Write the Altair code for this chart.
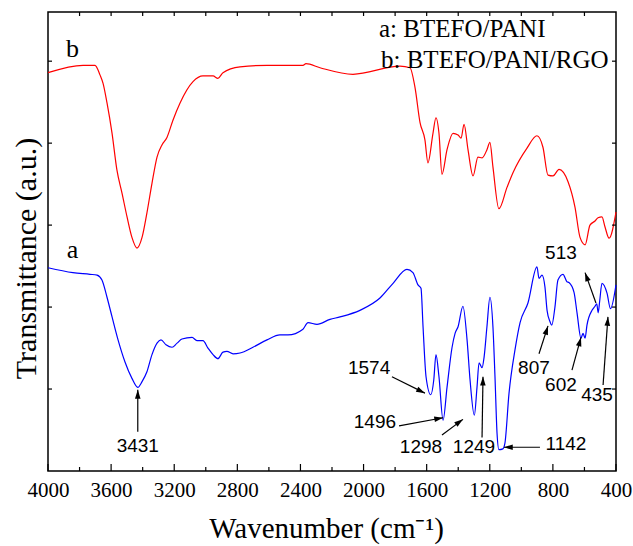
import math
import altair as alt
import pandas as pd

W, H = 568, 459
X_MIN, X_MAX = 400, 4000
Y_MIN, Y_MAX = 0, 56

# Spectrum a: BTEFO/PANI (blue)
wn_a = [4000, 3842, 3734, 3689, 3658, 3626, 3594, 3556, 3512, 3468,
        3431, 3404, 3373, 3341, 3309, 3284, 3252, 3214, 3182, 3151,
        3087, 3056, 3018, 2986, 2954, 2923, 2891, 2866, 2827, 2783,
        2701, 2612, 2530, 2479, 2384, 2352, 2295, 2213, 2149, 2023,
        1896, 1813, 1725, 1687, 1655, 1636, 1623, 1604, 1574, 1555,
        1541, 1522, 1496, 1471, 1439, 1420, 1401, 1370, 1344, 1325,
        1298, 1281, 1268, 1249, 1236, 1218, 1199, 1180, 1167, 1154,
        1142, 1117, 1104, 1078, 1040, 1008, 958, 901, 888, 869,
        850, 837, 818, 807, 787, 768, 736, 711, 698, 666,
        647, 622, 609, 596, 584, 552, 533, 522, 513, 503,
        489, 457, 435, 400]
tr_a = [24.8, 24.2, 24.0, 23.9, 23.3, 21.2, 18.8, 16.0, 13.3, 11.3,
        10.2, 10.9, 12.1, 14.2, 15.6, 16.0, 15.4, 15.1, 15.6, 16.1,
        16.3, 15.9, 15.9, 15.0, 14.2, 13.7, 14.5, 14.6, 14.3, 14.4,
        15.1, 16.0, 16.6, 16.6, 17.3, 18.1, 17.9, 18.5, 18.8, 19.6,
        21.1, 22.9, 24.6, 24.2, 22.7, 22.3, 17.6, 11.5, 9.3, 11.1,
        14.2, 11.5, 6.2, 10.2, 15.1, 16.8, 17.6, 20.1, 16.0, 11.1,
        6.8, 10.2, 13.2, 12.6, 13.9, 17.6, 21.2, 17.6, 11.5, 4.6,
        2.6, 2.7, 3.4, 9.5, 14.8, 18.1, 20.5, 24.9, 23.5, 23.9,
        22.4, 19.6, 18.2, 17.8, 20.0, 23.3, 24.0, 23.1, 23.0, 21.8,
        19.3, 16.2, 16.8, 16.2, 17.8, 19.6, 20.1, 20.4, 19.3, 20.8,
        22.9, 21.7, 19.8, 22.7]

# Spectrum b: BTEFO/PANI/RGO (red)
wn_b = [4000, 3778, 3702, 3670, 3651, 3626, 3594, 3563, 3531, 3499,
        3468, 3436, 3404, 3373, 3341, 3309, 3277, 3246, 3208, 3163,
        3081, 3018, 2954, 2923, 2891, 2783, 2612, 2384, 2365, 2276,
        2067, 1769, 1706, 1674, 1642, 1611, 1592, 1560, 1541, 1522,
        1503, 1471, 1433, 1401, 1382, 1363, 1338, 1306, 1275, 1249,
        1218, 1199, 1180, 1142, 1091, 1053, 964, 901, 863, 831,
        799, 761, 704, 660, 628, 596, 565, 533, 514, 489,
        470, 444, 400]
tr_b = [48.6, 49.5, 49.5, 48.3, 47.3, 44.9, 41.2, 36.7, 33.9, 31.0,
        28.5, 27.2, 28.5, 31.5, 35.1, 38.3, 39.8, 40.7, 42.8, 44.9,
        47.5, 48.2, 48.2, 47.9, 48.6, 49.3, 49.5, 49.5, 49.7, 49.2,
        48.4, 49.4, 49.2, 46.8, 42.5, 40.4, 37.6, 41.2, 43.1, 41.2,
        36.2, 39.2, 41.2, 41.0, 40.6, 42.3, 39.2, 36.0, 38.3, 38.2,
        39.2, 40.1, 37.1, 32.0, 34.6, 36.4, 39.4, 40.9, 39.5, 36.1,
        36.0, 36.8, 35.3, 32.2, 28.5, 27.6, 30.0, 30.5, 30.9, 31.0,
        29.8, 28.4, 31.6]

# Peak annotations
peak_text = ["3431", "1574", "1496", "1298", "1249", "1142", "807", "602", "435", "513"]
text_wn = [3431, 1965, 1928, 1636, 1300, 717, 920, 749, 520, 749]
text_tr = [3.05, 12.6, 6.0, 2.9, 2.9, 3.3, 12.6, 10.5, 9.3, 26.6]
arrow_from_wn = [3431, 1820, 1775, 1503, 1249, 882, 888, 679, 482, 527]
arrow_from_tr = [4.8, 11.5, 5.5, 4.4, 4.1, 2.9, 14.3, 12.3, 10.5, 20.5]
arrow_to_wn = [3431, 1611, 1496, 1370, 1243, 1110, 831, 622, 451, 596]
arrow_to_tr = [9.9, 9.5, 6.5, 6.3, 11.5, 2.9, 17.7, 16.3, 18.8, 24.2]

# Curve letters
letter_text = ["a", "b"]
letter_wn = [3845, 3845]
letter_tr = [26.0, 50.5]

legend_lines = ["a: BTEFO/PANI", "b: BTEFO/PANI/RGO"]

x_major = list(range(4000, 399, -400))
x_minor = list(range(3800, 401, -400))
x_top = list(range(3800, 401, -200))
y_ticks = [10, 20, 30, 40, 50]

xscale = alt.Scale(domain=[X_MIN, X_MAX], reverse=True, nice=False, zero=False)
yscale = alt.Scale(domain=[Y_MIN, Y_MAX], nice=False, zero=False)
xaxis = alt.Axis(values=x_major, format="d", title="Wavenumber (cm\u207b\u00b9)",
                 ticks=False, domain=False, grid=False, labelPadding=8,
                 labelFlush=False, labelOverlap=False,
                 labelFont="Liberation Serif", labelFontSize=21, labelColor="black",
                 titleFont="Liberation Serif", titleFontSize=29, titleFontWeight="normal",
                 titleColor="black", titleX=278, titleY=66, titleAlign="center",
                 titleBaseline="alphabetic")
yaxis = alt.Axis(title="Transmittance (a.u.)", labels=False, ticks=False, domain=False,
                 grid=False, titleFont="Liberation Serif", titleFontSize=30,
                 titleFontWeight="normal", titleColor="black", titleAngle=270,
                 titleX=-13, titleY=246, titleAlign="center", titleBaseline="alphabetic")


def X(field="wn"):
    return alt.X(f"{field}:Q", scale=xscale, axis=xaxis)


def Y(field="tr"):
    return alt.Y(f"{field}:Q", scale=yscale, axis=yaxis)


df_a = pd.DataFrame({"wn": wn_a, "tr": tr_a, "sample": "a"})
df_a["idx"] = range(len(df_a))
df_b = pd.DataFrame({"wn": wn_b, "tr": tr_b, "sample": "b"})
df_b["idx"] = range(len(df_b))
spectra = pd.concat([df_a, df_b], ignore_index=True)

lines = alt.Chart(spectra).mark_line(strokeWidth=1.2, interpolate="monotone").encode(
    x=X(), y=Y(),
    color=alt.Color("sample:N", scale=alt.Scale(domain=["a", "b"], range=["#0000FF", "#FF0000"]), legend=None),
    order="idx:Q",
)


def head_angle(w0, t0, w1, t1):
    dx = -(w1 - w0) * W / (X_MAX - X_MIN)
    dy = -(t1 - t0) * H / (Y_MAX - Y_MIN)
    return math.degrees(math.atan2(dx, -dy)) % 360


arrows = pd.DataFrame({
    "wn": arrow_from_wn, "tr": arrow_from_tr,
    "wn2": arrow_to_wn, "tr2": arrow_to_tr,
})
arrows["angle"] = [head_angle(a, b, c, d) for a, b, c, d in
                   zip(arrow_from_wn, arrow_from_tr, arrow_to_wn, arrow_to_tr)]

arrow_lines = alt.Chart(arrows).mark_rule(color="black", strokeWidth=1.2).encode(
    x=X(), y=Y(), x2="wn2:Q", y2="tr2:Q")

heads = pd.DataFrame({"wn": arrow_to_wn, "tr": arrow_to_tr, "angle": arrows["angle"]})
arrow_heads = alt.Chart(heads).mark_point(
    shape="M0,0L-0.7,2.2L0.7,2.2Z", filled=True, color="black", size=64, opacity=1, strokeWidth=0
).encode(x=X(), y=Y(), angle=alt.Angle("angle:Q", scale=None))

labels = alt.Chart(pd.DataFrame({"wn": text_wn, "tr": text_tr, "t": peak_text})).mark_text(
    font="Liberation Sans", fontSize=19, color="black", align="center", baseline="middle"
).encode(x=X(), y=Y(), text="t:N")

letters = alt.Chart(pd.DataFrame({"wn": letter_wn, "tr": letter_tr, "t": letter_text})).mark_text(
    font="Liberation Serif", fontSize=26, color="black", align="center", baseline="alphabetic"
).encode(x=X(), y=Y(), text="t:N")

legend_a = alt.Chart(pd.DataFrame({"t": [legend_lines[0]]})).mark_text(
    font="Liberation Serif", fontSize=25, color="black", align="left", baseline="alphabetic"
).encode(x=alt.value(331), y=alt.value(25), text="t:N")
legend_b = alt.Chart(pd.DataFrame({"t": [legend_lines[1]]})).mark_text(
    font="Liberation Serif", fontSize=25, color="black", align="left", baseline="alphabetic"
).encode(x=alt.value(333), y=alt.value(56), text="t:N")

tick_major = alt.Chart(pd.DataFrame({"wn": x_major})).mark_rule(color="black", strokeWidth=1.2).encode(
    x=X(), y=alt.value(H), y2=alt.value(H - 7))
tick_minor = alt.Chart(pd.DataFrame({"wn": x_minor})).mark_rule(color="black", strokeWidth=1.2).encode(
    x=X(), y=alt.value(H), y2=alt.value(H - 4))
tick_top = alt.Chart(pd.DataFrame({"wn": x_top})).mark_rule(color="black", strokeWidth=1.2).encode(
    x=X(), y=alt.value(0), y2=alt.value(4))
tick_left = alt.Chart(pd.DataFrame({"tr": y_ticks})).mark_rule(color="black", strokeWidth=1.2).encode(
    y=Y(), x=alt.value(0), x2=alt.value(4))
tick_right = alt.Chart(pd.DataFrame({"tr": y_ticks})).mark_rule(color="black", strokeWidth=1.2).encode(
    y=Y(), x=alt.value(W), x2=alt.value(W - 4))

chart = alt.layer(
    lines, tick_major, tick_minor, tick_top, tick_left, tick_right,
    arrow_lines, arrow_heads, labels, letters, legend_a, legend_b,
).properties(
    width=W, height=H,
    padding={"left": 48, "top": 12, "right": 17, "bottom": 75},
    autosize=alt.AutoSizeParams(type="none"),
    background="white",
).configure_view(stroke="black", strokeWidth=1.5)

chart.save("out.html", embed_options={"renderer": "svg", "actions": False})
